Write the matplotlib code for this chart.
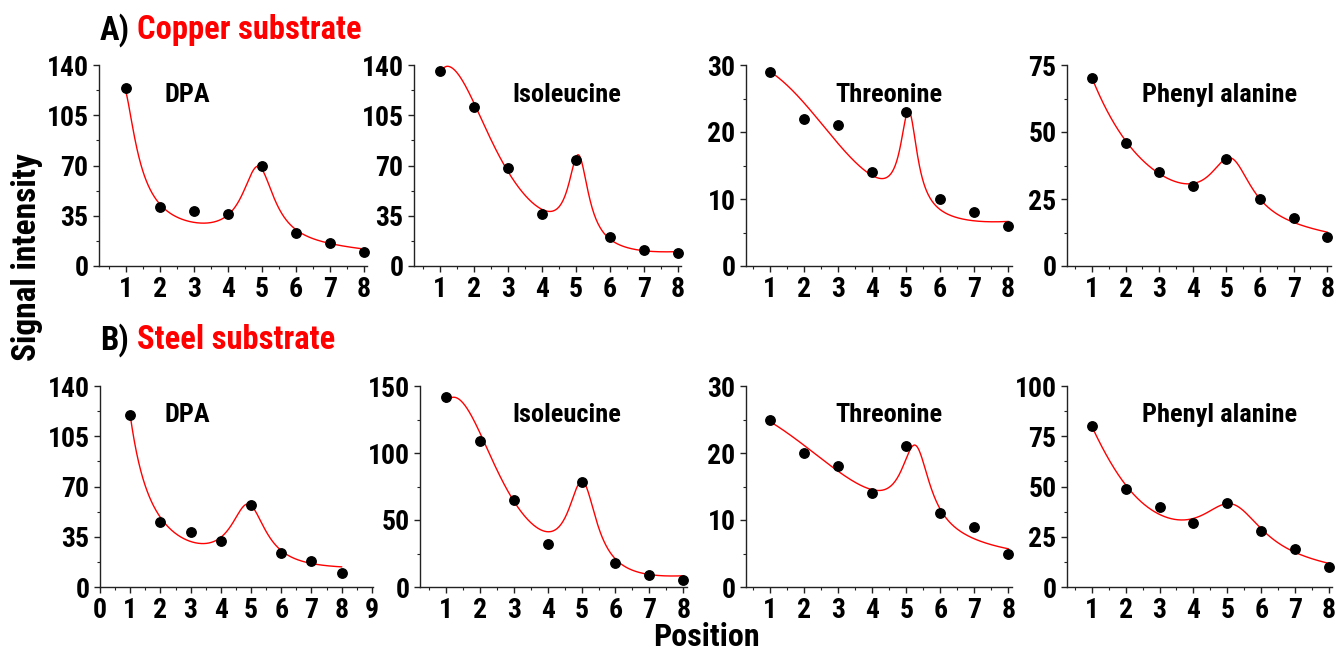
import numpy as np
import matplotlib
matplotlib.use('Agg')
import matplotlib.pyplot as plt
from matplotlib.ticker import MultipleLocator

positions = np.arange(1, 9)
compounds = ['DPA', 'Isoleucine', 'Threonine', 'Phenyl alanine']

copper_dpa = [124, 41, 38, 36, 69.5, 23, 16, 10]
copper_ile = [136, 111, 68, 36, 73.5, 20, 11, 9.3]
copper_thr = [29, 22, 21, 14, 23, 10, 8, 6]
copper_phe = [70, 46, 35, 30, 40, 25, 18, 11]
steel_dpa = [120, 45, 38, 32, 57, 24, 18, 10]
steel_ile = [141.5, 109, 65, 32, 78, 18, 9, 5]
steel_thr = [25, 20, 18, 14, 21, 11, 9, 5]
steel_phe = [80, 49, 40, 32, 42, 28, 19, 10]

# fitted curve parameters: offset, slope, broad peak (height, centre, width, power),
# narrow Lorentz peak (height, centre, half width)
copper_dpa_fit = [21.877, -1.645, 102.546, 0.950, 0.470, 1.585, 52.238, 4.890, 0.572]
copper_ile_fit = [-58.768, 6.081, 190.054, 1.186, 2.028, 1.801, 60.382, 5.072, 0.359]
copper_thr_fit = [-4.705, 1.174, 37.486, -4.630, 7.686, 6.000, 14.5, 5.08, 0.30]
copper_phe_fit = [19.796, -1.266, 288.523, -7.354, 6.463, 6.000, 21.594, 5.129, 0.745]
steel_dpa_fit = [-12.447, 1.657, 136.215, 0.950, 0.735, 1.071, 42.853, 4.909, 0.703]
steel_ile_fit = [-61.127, 6.409, 193.889, 1.180, 1.925, 1.887, 66.520, 5.026, 0.512]
steel_thr_fit = [2.664, 0.061, 26.857, -6.654, 9.752, 6.000, 11.982, 5.268, 0.510]
steel_phe_fit = [20.632, -1.632, 124.940, -4.363, 5.271, 6.000, 25.517, 5.134, 1.124]

copper_ymax = [140, 140, 30, 75]
copper_ystep = [35, 35, 10, 25]
steel_ymax = [140, 150, 30, 100]
steel_ystep = [35, 50, 10, 25]


def model(p, x):
    a, s, h1, c1, w1, p1, h2, c2, w2 = p
    return (a + s * x + h1 / (1 + np.abs((x - c1) / w1) ** p1)
            + h2 / (1 + ((x - c2) / w2) ** 2))


plt.rcParams['font.family'] = ['Roboto Condensed', 'Archivo Narrow', 'Liberation Sans Narrow', 'DejaVu Sans']
plt.rcParams['font.weight'] = 'bold'

W, H = 1340, 653
fig = plt.figure(figsize=(W / 100, H / 100), dpi=100)


def add_ax(left, top, right, bottom):
    return fig.add_axes([left / W, 1 - bottom / H, (right - left) / W, (bottom - top) / H])


# axis left pixel, pixels per unit, xmin, xmax
copper_geom = [(99, 34, 0.206, 8.1), (414, 34, 0.235, 8.1), (746, 34, 0.29, 8.1), (1067, 33.6, 0.255, 8.1)]
steel_geom = [(100, 30.2, 0.0, 9.05), (420, 33.9, 0.234, 8.1), (746, 34, 0.285, 8.1), (1067, 33.9, 0.27, 8.1)]
title_x = [165, 512, 835, 1142]

rows = [
    (65, 266, [copper_dpa, copper_ile, copper_thr, copper_phe],
     [copper_dpa_fit, copper_ile_fit, copper_thr_fit, copper_phe_fit],
     copper_ymax, copper_ystep, copper_geom, 95),
    (386, 587, [steel_dpa, steel_ile, steel_thr, steel_phe],
     [steel_dpa_fit, steel_ile_fit, steel_thr_fit, steel_phe_fit],
     steel_ymax, steel_ystep, steel_geom, 415),
]

xs = np.linspace(1, 8, 500)
for top, bottom, series, fits, ymaxs, ysteps, geoms, ty in rows:
    for j in range(4):
        left, ppu, xmin, xmax = geoms[j]
        right = left + (xmax - xmin) * ppu
        ax = add_ax(left, top, right, bottom)
        ax.plot(xs, model(fits[j], xs), color='#ff0000', lw=1.0, zorder=2)
        ax.plot(positions, series[j], 'o', color='black', ms=6.8, zorder=3, clip_on=False)
        ax.set_xlim(xmin, xmax)
        ax.set_ylim(0, ymaxs[j])
        if xmin == 0:
            ax.set_xticks(np.arange(0, 10))
        else:
            ax.set_xticks(positions)
        ax.xaxis.set_minor_locator(MultipleLocator(0.5))
        ax.yaxis.set_major_locator(MultipleLocator(ysteps[j]))
        ax.yaxis.set_minor_locator(MultipleLocator(ysteps[j] / 2))
        for s in ['top', 'right']:
            ax.spines[s].set_visible(False)
        for s in ['left', 'bottom']:
            ax.spines[s].set_linewidth(1.0)
            ax.spines[s].set_color('#222222')
        ax.tick_params(which='major', length=4.5, width=1.0, color='#222222', labelsize=20, pad=3)
        ax.tick_params(which='minor', length=2.5, width=0.8, color='#222222')
        ax.patch.set_alpha(0)
        fig.text(title_x[j] / W, 1 - ty / H, compounds[j], fontsize=19, fontweight='bold',
                 ha='left', va='center')

fig.text(100 / W, 1 - 30 / H, 'A)', fontsize=23.5, fontweight='bold', ha='left', va='center')
fig.text(137 / W, 1 - 30 / H, 'Copper substrate', fontsize=23.5, fontweight='bold',
         color='#ff0000', ha='left', va='center')
fig.text(100 / W, 1 - 340 / H, 'B)', fontsize=23.5, fontweight='bold', ha='left', va='center')
fig.text(137 / W, 1 - 340 / H, 'Steel substrate', fontsize=23.5, fontweight='bold',
         color='#ff0000', ha='left', va='center')
fig.text(27 / W, 1 - 257 / H, 'Signal intensity', fontsize=24, fontweight='bold',
         rotation=90, ha='center', va='center')
fig.text(706 / W, 1 - 637 / H, 'Position', fontsize=23, fontweight='bold', ha='center', va='center')

fig.savefig('out.png', dpi=100)
